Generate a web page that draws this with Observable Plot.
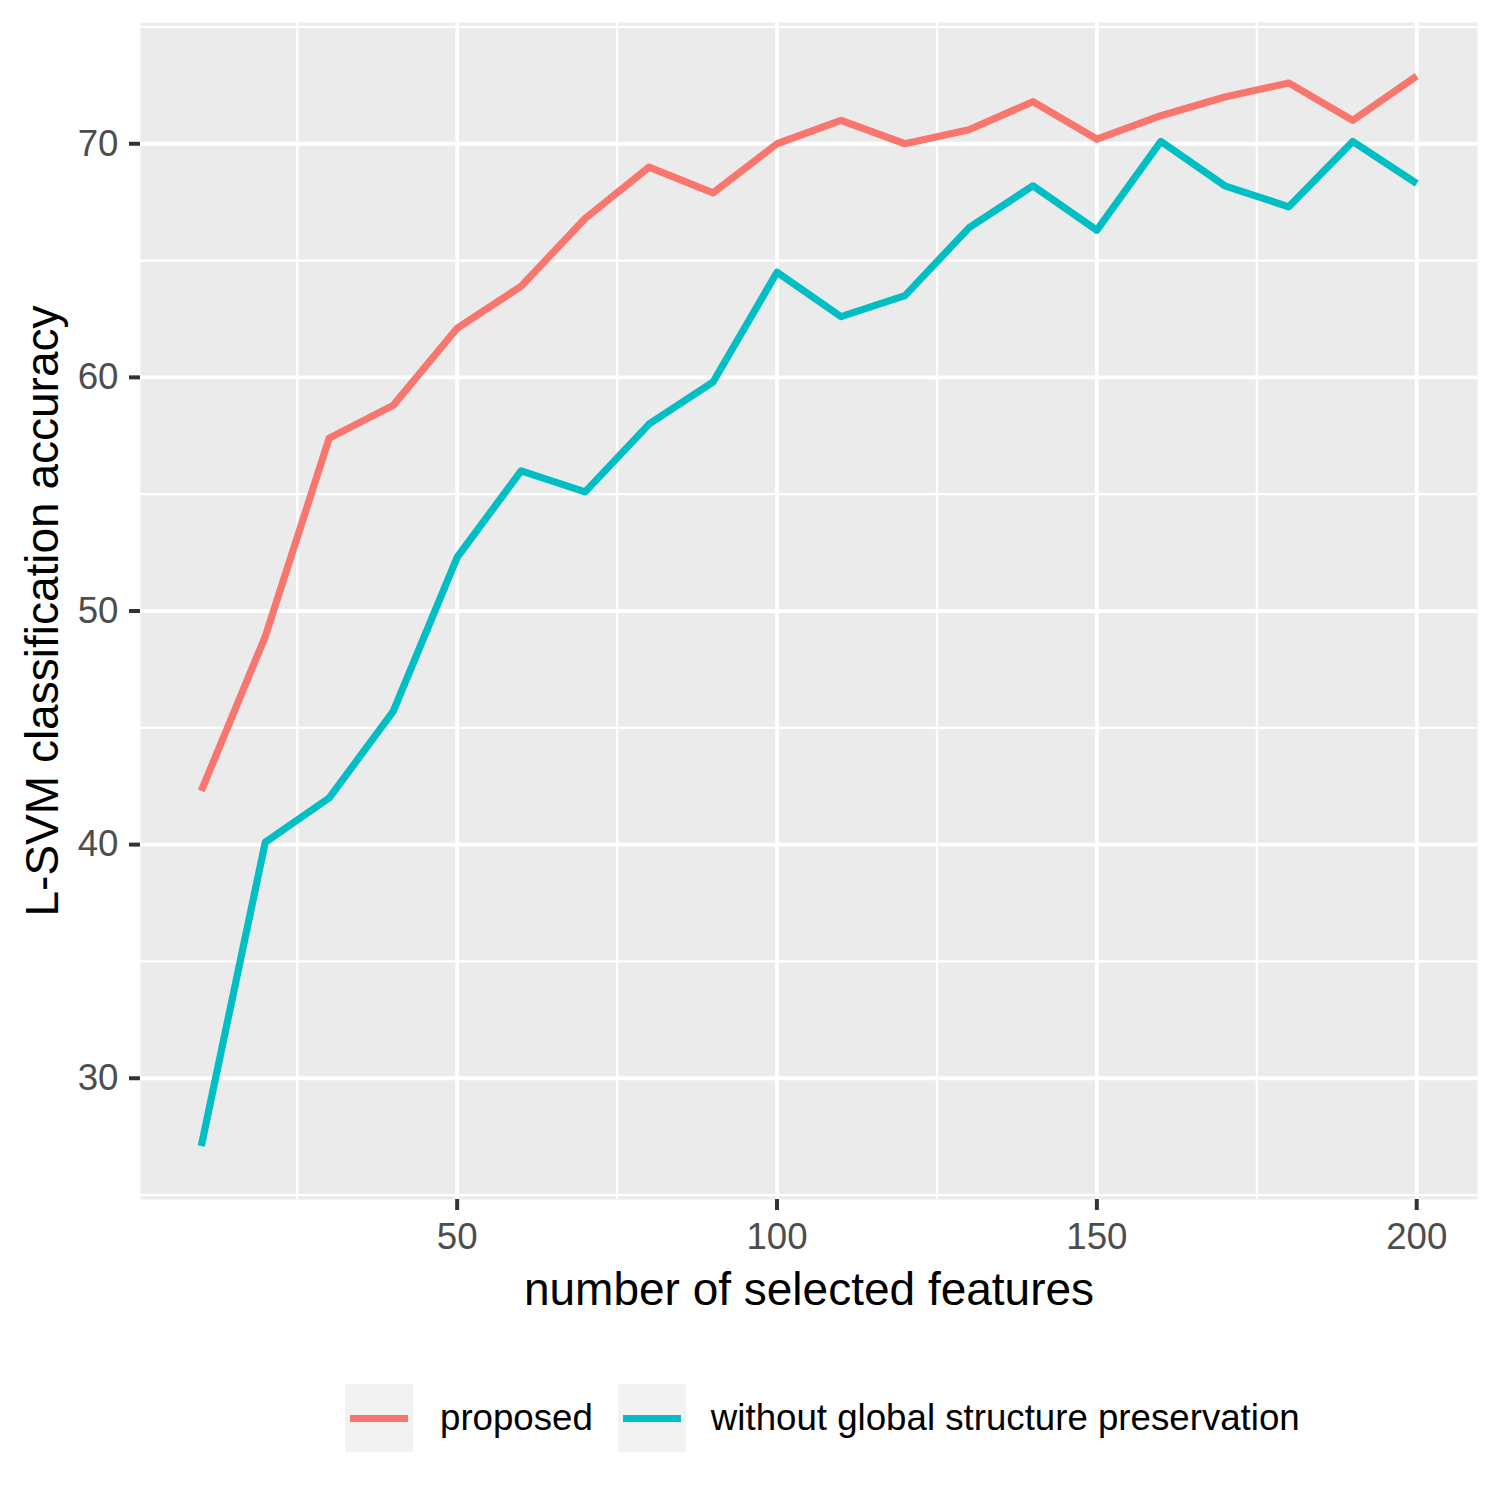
<!DOCTYPE html>
<html>
<head>
<meta charset="utf-8">
<script src="https://cdn.jsdelivr.net/npm/d3@7"></script>
<script src="https://cdn.jsdelivr.net/npm/@observablehq/plot@0.6"></script>
<style>
  body { margin: 0; background: #ffffff; font-family: "Liberation Sans", Arial, sans-serif; }
  #chart { width: 1500px; }
  .legend { display: flex; align-items: center; height: 68px; margin-top: 44px; padding-left: 345px; }
  .key { width: 68px; height: 68px; background: #F2F2F2; position: relative; flex: none; }
  .key span { position: absolute; left: 5px; width: 58px; top: 30.5px; height: 7px; }
  .lab { font-size: 36.67px; color: #000; white-space: nowrap; }
</style>
</head>
<body>
<div id="chart"></div>
<script>
// ---- data ----
const features = [10, 20, 30, 40, 50, 60, 70, 80, 90, 100, 110, 120, 130, 140, 150, 160, 170, 180, 190, 200];
const proposed = [42.3, 48.9, 57.4, 58.8, 62.1, 63.9, 66.8, 69.0, 67.9, 70.0, 71.0, 70.0, 70.6, 71.8, 70.2, 71.2, 72.0, 72.6, 71.0, 72.9];
const withoutGlobal = [27.1, 40.1, 42.0, 45.7, 52.3, 56.0, 55.1, 58.0, 59.8, 64.5, 62.6, 63.5, 66.4, 68.2, 66.3, 70.1, 68.2, 67.3, 70.1, 68.3];
const seriesNames = ["proposed", "without global structure preservation"];
const seriesColors = ["#F8766D", "#00BFC4"];
const xMajor = [50, 100, 150, 200];
const xMinor = [25, 75, 125, 175];
const yMajor = [30, 40, 50, 60, 70];
const yMinor = [25, 35, 45, 55, 65, 75];
const xTitle = "number of selected features";
const yTitle = "L-SVM classification accuracy";

const rows = features.flatMap((f, i) => [
  {x: f, y: proposed[i], s: seriesNames[0]},
  {x: f, y: withoutGlobal[i], s: seriesNames[1]}
]);
function expand(vals) {
  const lo = d3.min(vals), hi = d3.max(vals), p = (hi - lo) * 0.05;
  return [lo - p, hi + p];
}
const xDom = expand(features);
const yDom = expand([...proposed, ...withoutGlobal]);

const plot = Plot.plot({
  width: 1500,
  height: 1340,
  marginLeft: 140,
  marginRight: 23,
  marginTop: 22,
  marginBottom: 141,
  style: {fontFamily: "Liberation Sans, Arial, sans-serif", background: "transparent"},
  x: {domain: xDom, label: null},
  y: {domain: yDom, label: null},
  color: {domain: seriesNames, range: seriesColors},
  marks: [
    Plot.frame({fill: "#EBEBEB", stroke: null}),
    Plot.ruleX(xMinor, {x: d => d, stroke: "#ffffff", strokeWidth: 2.2}),
    Plot.ruleY(yMinor, {y: d => d, stroke: "#ffffff", strokeWidth: 2.2}),
    Plot.ruleX(xMajor, {x: d => d, stroke: "#ffffff", strokeWidth: 3.8}),
    Plot.ruleY(yMajor, {y: d => d, stroke: "#ffffff", strokeWidth: 3.8}),
    Plot.line(rows, {x: "x", y: "y", z: "s", stroke: "s", strokeWidth: 7.2, strokeLinejoin: "round", strokeLinecap: "butt"}),
    Plot.axisX({ticks: xMajor, tickSize: 11, tickPadding: 12, stroke: "#333333", strokeWidth: 4, fill: "#4D4D4D", fontSize: 36.67, label: null}),
    Plot.axisY({ticks: yMajor, tickSize: 11, tickPadding: 11, stroke: "#333333", strokeWidth: 4, fill: "#4D4D4D", fontSize: 36.67, label: null}),
    Plot.text([xTitle], {text: d => d, frameAnchor: "bottom", textAnchor: "middle", lineAnchor: "bottom", dy: 105, fontSize: 46, fill: "#000000"}),
    Plot.text([yTitle], {text: d => d, frameAnchor: "left", textAnchor: "middle", rotate: -90, lineAnchor: "bottom", dx: -82.5, fontSize: 46, fill: "#000000"})
  ]
});
document.getElementById("chart").appendChild(plot);

// legend below the SVG
const legend = document.createElement("div");
legend.className = "legend";
seriesNames.forEach((name, i) => {
  const key = document.createElement("div");
  key.className = "key";
  key.style.marginLeft = i === 0 ? "0px" : "25px";
  const ln = document.createElement("span");
  ln.style.background = seriesColors[i];
  key.appendChild(ln);
  const lab = document.createElement("div");
  lab.className = "lab";
  lab.style.marginLeft = i === 0 ? "27px" : "25px";
  lab.textContent = name;
  legend.appendChild(key);
  legend.appendChild(lab);
});
document.getElementById("chart").appendChild(legend);
</script>
</body>
</html>
